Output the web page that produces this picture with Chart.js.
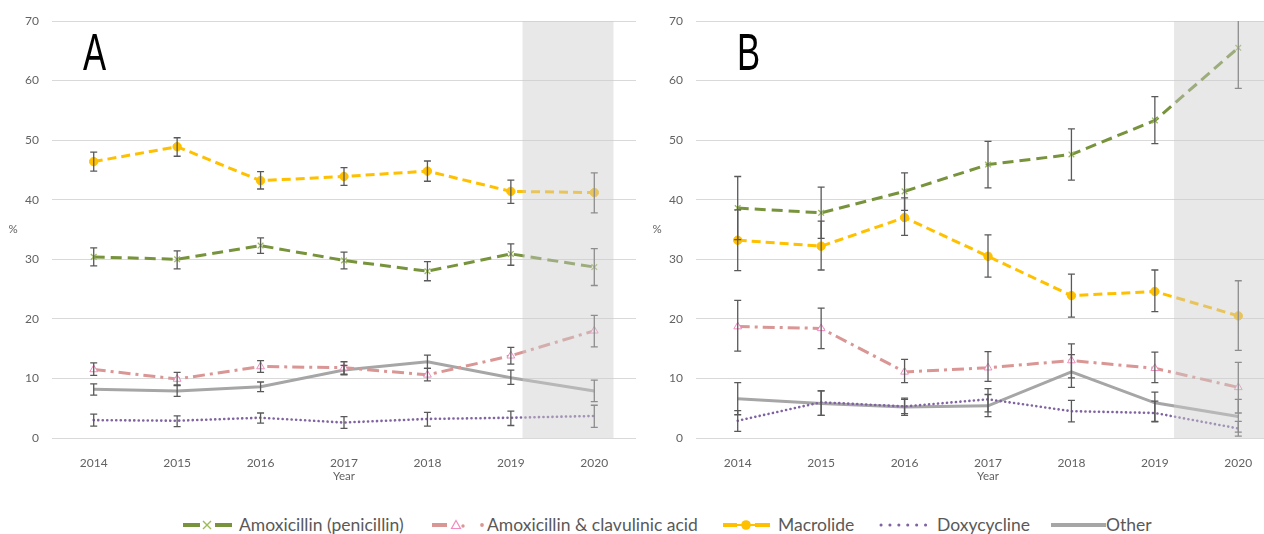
<!DOCTYPE html>
<html>
<head>
<meta charset="utf-8">
<script src="https://cdn.jsdelivr.net/npm/chart.js@4.4.1/dist/chart.umd.min.js"></script>
<style>
  html, body { margin: 0; padding: 0; background: #fff; overflow: hidden; }
  #wrap { position: relative; width: 1264px; height: 534px; overflow: hidden; }
  .panel { position: absolute; top: 0; width: 650px; height: 492px; }
  #panelA { left: 0; }
  #panelB { left: 644px; }
  .lsym { position: absolute; top: 518px; height: 14px; }
  .ltxt { position: absolute; top: 514px; line-height: 22px; white-space: nowrap;
    font-family: Lato, sans-serif; font-size: 17.5px; color: #595959; }
</style>
</head>
<body>
<div id="wrap">
  <div class="panel" id="panelA"><canvas id="chartA"></canvas></div>
  <div class="panel" id="panelB"><canvas id="chartB"></canvas></div>
</div>
<script>
// Antibiotic class share (%) per year, panels A and B, with 95% CI bars

const years = ['2014', '2015', '2016', '2017', '2018', '2019', '2020'];
const yTickValues = [0, 10, 20, 30, 40, 50, 60, 70];
const seriesNames = ['Amoxicillin (penicillin)', 'Amoxicillin & clavulinic acid',
                     'Macrolide', 'Doxycycline', 'Other'];

// panel A
const aAmox     = [30.4, 30.0, 32.3, 29.8, 28.0, 30.9, 28.7];
const aAmoxLo   = [28.9, 28.4, 31.0, 28.4, 26.4, 29.0, 25.6];
const aAmoxHi   = [31.9, 31.4, 33.6, 31.2, 29.6, 32.6, 31.8];
const aClav     = [11.5, 9.9, 12.0, 11.8, 10.6, 13.8, 18.0];
const aClavLo   = [10.5, 8.8, 11.0, 10.6, 9.6, 12.4, 15.3];
const aClavHi   = [12.6, 11.0, 13.0, 12.8, 11.7, 15.2, 20.6];
const aMacro    = [46.4, 48.9, 43.2, 43.9, 44.8, 41.4, 41.2];
const aMacroLo  = [44.8, 47.3, 41.8, 42.4, 43.1, 39.4, 37.8];
const aMacroHi  = [48.0, 50.4, 44.7, 45.4, 46.5, 43.3, 44.5];
const aDoxy     = [3.0, 2.9, 3.4, 2.6, 3.2, 3.4, 3.7];
const aDoxyLo   = [2.0, 1.9, 2.5, 1.6, 2.0, 2.1, 1.8];
const aDoxyHi   = [4.0, 3.7, 4.2, 3.6, 4.3, 4.5, 5.5];
const aOther    = [8.2, 7.9, 8.6, 11.4, 12.8, 10.1, 7.9];
const aOtherLo  = [7.2, 7.0, 7.8, 10.7, 11.7, 9.0, 6.1];
const aOtherHi  = [9.1, 8.9, 9.4, 12.2, 13.9, 11.4, 9.7];

// panel B
const bAmox     = [38.6, 37.8, 41.4, 45.9, 47.6, 53.3, 65.5];
const bAmoxLo   = [33.3, 33.5, 38.2, 42.0, 43.3, 49.4, 58.7];
const bAmoxHi   = [43.9, 42.1, 44.5, 49.8, 51.9, 57.3, 72.0];
const bClav     = [18.7, 18.4, 11.1, 11.8, 13.0, 11.7, 8.5];
const bClavLo   = [14.6, 15.0, 9.3, 9.5, 10.1, 9.3, 4.2];
const bClavHi   = [23.1, 21.8, 13.2, 14.5, 15.8, 14.4, 12.7];
const bMacro    = [33.2, 32.2, 37.0, 30.5, 23.9, 24.6, 20.5];
const bMacroLo  = [28.1, 28.2, 34.0, 27.0, 20.3, 21.2, 14.7];
const bMacroHi  = [38.3, 36.4, 40.3, 34.1, 27.5, 28.2, 26.4];
const bDoxy     = [2.9, 6.0, 5.3, 6.5, 4.5, 4.2, 1.6];
const bDoxyLo   = [1.1, 3.8, 4.1, 4.4, 2.7, 2.7, 0.3];
const bDoxyHi   = [4.6, 7.9, 6.5, 8.3, 6.3, 6.2, 2.8];
const bOther    = [6.6, 5.8, 5.2, 5.4, 11.1, 5.9, 3.6];
const bOtherLo  = [3.9, 3.8, 3.8, 3.6, 8.5, 2.8, 1.0];
const bOtherHi  = [9.3, 7.9, 6.7, 7.3, 14.0, 7.7, 6.5];

// shaded period (category index units)
const aBand = [5.14, 6.23];
const bBand = [5.23, 6.8];

const colors = ['#77933C', '#D99694', '#FFC000', '#8064A2', '#A6A6A6'];
const TICK_GREY = '#626262';

function makeDatasets(vals, lo, hi) {
    return [
        { label: seriesNames[0], data: vals[0], errLo: lo[0], errHi: hi[0],
          borderColor: colors[0], borderWidth: 3, borderDash: [11, 6],
          pointStyle: 'crossRot', pointRadius: 4, pointBorderWidth: 1.3,
          pointBorderColor: '#9BBB59', pointBackgroundColor: '#fff' },
        { label: seriesNames[1], data: vals[1], errLo: lo[1], errHi: hi[1],
          borderColor: colors[1], borderWidth: 3, borderDash: [12, 5, 3, 5],
          pointStyle: 'triangle', pointRadius: 4.5, pointBorderWidth: 1,
          pointBorderColor: '#F08CC0', pointBackgroundColor: '#fff' },
        { label: seriesNames[2], data: vals[2], errLo: lo[2], errHi: hi[2],
          borderColor: colors[2], borderWidth: 3, borderDash: [9, 5],
          pointStyle: 'circle', pointRadius: 4.2, pointBorderWidth: 1,
          pointBorderColor: colors[2], pointBackgroundColor: colors[2] },
        { label: seriesNames[3], data: vals[3], errLo: lo[3], errHi: hi[3],
          borderColor: colors[3], borderWidth: 2.6, borderDash: [0.1, 4.4],
          borderCapStyle: 'round', pointRadius: 0 },
        { label: seriesNames[4], data: vals[4], errLo: lo[4], errHi: hi[4],
          borderColor: colors[4], borderWidth: 3, pointRadius: 0 }
    ];
}

// error bars, shaded band, panel letter and axis titles
const extrasPlugin = {
    id: 'panelExtras',
    afterDatasetsDraw: function (chart, args, opts) {
        const ctx = chart.ctx;
        const xs = chart.scales.x, ys = chart.scales.y;
        const a = chart.chartArea;
        ctx.save();
        ctx.beginPath();
        ctx.rect(a.left, a.top, a.right - a.left, a.bottom - a.top);
        ctx.clip();
        ctx.strokeStyle = '#595959';
        ctx.lineWidth = 1.3;
        chart.data.datasets.forEach(function (ds, di) {
            chart.getDatasetMeta(di).data.forEach(function (pt, i) {
                const y1 = ys.getPixelForValue(ds.errLo[i]);
                const y2 = ys.getPixelForValue(ds.errHi[i]);
                ctx.beginPath();
                ctx.moveTo(pt.x, y1); ctx.lineTo(pt.x, y2);
                ctx.moveTo(pt.x - 3.5, y1); ctx.lineTo(pt.x + 3.5, y1);
                ctx.moveTo(pt.x - 3.5, y2); ctx.lineTo(pt.x + 3.5, y2);
                ctx.stroke();
            });
        });
        const bx1 = xs.getPixelForValue(opts.band[0]);
        const bx2 = xs.getPixelForValue(opts.band[1]);
        ctx.fillStyle = 'rgba(204,204,204,0.45)';
        ctx.fillRect(bx1, a.top, bx2 - bx1, a.bottom - a.top);
        ctx.restore();

        // panel letter, narrow sans
        ctx.save();
        ctx.fillStyle = '#000';
        ctx.font = '51px "Liberation Sans"';
        ctx.textAlign = 'left';
        ctx.textBaseline = 'alphabetic';
        ctx.translate(a.left + opts.letterX, a.top + 49);
        ctx.scale(0.68, 1);
        ctx.fillText(opts.letter, 0, 0);
        ctx.restore();

        ctx.save();
        ctx.fillStyle = TICK_GREY;
        ctx.font = '11.5px Lato';
        ctx.textAlign = 'center';
        ctx.textBaseline = 'middle';
        ctx.fillText('%', a.left - 39, (a.top + a.bottom) / 2);
        ctx.fillText('Year', (a.left + a.right) / 2, a.bottom + 38);
        ctx.restore();
    }
};

function makeChart(id, vals, lo, hi, letter, letterX, band) {
    return new Chart(document.getElementById(id), {
        type: 'line',
        data: { labels: years, datasets: makeDatasets(vals, lo, hi) },
        options: {
            responsive: true,
            maintainAspectRatio: false,
            animation: false,
            layout: { padding: { left: 0, right: 14, top: 21, bottom: 0 } },
            scales: {
                x: {
                    offset: true,
                    grid: { display: false },
                    border: { display: false },
                    ticks: { color: TICK_GREY, font: { family: 'Lato', size: 12 }, padding: 10 },
                    afterFit: function (s) { s.height = 54; }
                },
                y: {
                    min: 0, max: 70,
                    afterBuildTicks: function (s) {
                        s.ticks = yTickValues.map(function (v) { return { value: v }; });
                    },
                    grid: { color: '#D9D9D9', lineWidth: 1, drawTicks: false },
                    border: { display: false },
                    ticks: { color: TICK_GREY, font: { family: 'Lato', size: 12 }, padding: 13 },
                    afterFit: function (s) { s.width = 52; }
                }
            },
            plugins: {
                legend: { display: false },
                tooltip: { enabled: false },
                panelExtras: { letter: letter, letterX: letterX, band: band }
            }
        },
        plugins: [extrasPlugin]
    });
}

makeChart('chartA', [aAmox, aClav, aMacro, aDoxy, aOther],
          [aAmoxLo, aClavLo, aMacroLo, aDoxyLo, aOtherLo],
          [aAmoxHi, aClavHi, aMacroHi, aDoxyHi, aOtherHi], 'A', 31, aBand);
makeChart('chartB', [bAmox, bClav, bMacro, bDoxy, bOther],
          [bAmoxLo, bClavLo, bMacroLo, bDoxyLo, bOtherLo],
          [bAmoxHi, bClavHi, bMacroHi, bDoxyHi, bOtherHi], 'B', 41, bBand);

// shared legend below both panels
const symbols = [
    '<line x1="0" y1="7" x2="17" y2="7" stroke="' + colors[0] + '" stroke-width="4"/>' +
    '<path d="M20 3 L28 11 M28 3 L20 11" stroke="#9BBB59" stroke-width="1.4"/>' +
    '<line x1="32" y1="7" x2="49" y2="7" stroke="' + colors[0] + '" stroke-width="4"/>',
    '<line x1="0" y1="7" x2="15" y2="7" stroke="' + colors[1] + '" stroke-width="4"/>' +
    '<path d="M24 2.5 L28.5 10.5 L19.5 10.5 Z" fill="#fff" stroke="#F08CC0" stroke-width="1.2"/>' +
    '<circle cx="31" cy="8" r="1.7" fill="' + colors[1] + '"/>' +
    '<circle cx="50" cy="7" r="1.9" fill="' + colors[1] + '"/>',
    '<line x1="0" y1="7" x2="14" y2="7" stroke="' + colors[2] + '" stroke-width="4"/>' +
    '<line x1="32" y1="7" x2="47" y2="7" stroke="' + colors[2] + '" stroke-width="4"/>' +
    '<line x1="14" y1="7" x2="32" y2="7" stroke="' + colors[2] + '" stroke-width="2"/>' +
    '<circle cx="23" cy="7" r="4.8" fill="' + colors[2] + '"/>',
    '<line x1="2" y1="7" x2="47" y2="7" stroke="' + colors[3] + '" stroke-width="3" ' +
    'stroke-dasharray="0.1 8.8" stroke-linecap="round"/>',
    '<line x1="0" y1="7" x2="55" y2="7" stroke="' + colors[4] + '" stroke-width="4"/>'
];
const symLeft = [183, 432, 723, 879, 1051];
const symWidth = [49, 53, 47, 49, 55];
const textLeft = [239, 487, 778, 937, 1106];
const wrapEl = document.getElementById('wrap');
seriesNames.forEach(function (name, i) {
    const sym = document.createElement('div');
    sym.className = 'lsym';
    sym.style.left = symLeft[i] + 'px';
    sym.innerHTML = '<svg width="' + symWidth[i] + '" height="14">' + symbols[i] + '</svg>';
    wrapEl.appendChild(sym);
    const txt = document.createElement('div');
    txt.className = 'ltxt';
    txt.style.left = textLeft[i] + 'px';
    txt.textContent = name;
    wrapEl.appendChild(txt);
});
</script>
</body>
</html>
